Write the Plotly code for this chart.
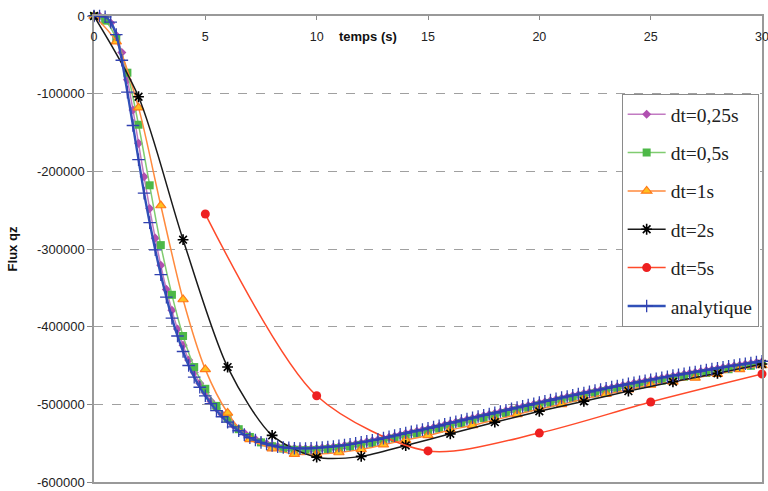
import plotly.graph_objects as go

# ---------------- data ----------------
t_025 = [i * 0.25 for i in range(121)]
t_05 = [i * 0.5 for i in range(61)]
t_1 = list(range(0, 31))
t_2 = list(range(0, 31, 2))
t_5 = [5, 10, 15, 20, 25, 30]
t_ana = [i * 0.25 for i in range(121)]

q_025 = [0, 0, -2000, -9000, -25000, -47000, -82000, -121000, -164000, -207000,
         -248000, -286000, -321000, -352000, -379000, -403000, -424000, -443000, -459000, -473000,
         -485000, -496000, -505000, -513000, -520000, -527000, -532000, -537000, -541500, -545000,
         -548000, -550500, -552500, -554200, -555400, -556300, -557000, -557300, -557400, -557200,
         -556800, -556300, -555700, -555000, -554200, -553200, -552200, -551000, -549700, -548400,
         -547100, -545700, -544200, -542600, -541000, -539400, -537700, -536200, -534700, -533200,
         -531700, -530000, -528300, -526500, -524700, -523200, -521500, -519700, -518000, -516400,
         -514800, -513200, -511700, -510000, -508300, -506500, -504900, -503300, -501700, -500100,
         -498500, -496900, -495300, -493700, -492100, -490600, -489100, -487600, -486100, -484600,
         -483100, -481600, -480100, -478600, -477200, -475800, -474400, -473000, -471700, -470400,
         -469000, -467700, -466400, -465100, -463800, -462600, -461400, -460200, -459000, -457800,
         -456600, -455400, -454200, -453000, -451800, -450700, -449600, -448500, -447400, -446300,
         -445200]

q_05 = [0, -6000, -29000, -73000, -140000, -218000, -295000, -359000, -412000, -452000,
        -480000, -502000, -518000, -532000, -542000, -549000, -554000, -557000, -558500, -559000,
        -558700, -557800, -556300, -554400, -552200, -549700, -547000, -544000, -540800, -537800,
        -534800, -531400, -527800, -524400, -521000, -517800, -514600, -511200, -507800, -504600,
        -501400, -498200, -495000, -492000, -489000, -486000, -483000, -480200, -477400, -474700,
        -472000, -469400, -466800, -464400, -462000, -459600, -457200, -454800, -452600, -450400,
        -448200]

q_1 = [0, -33000, -118000, -244000, -365000, -455000, -511000, -545000, -557000, -564000,
       -564000, -562000, -558000, -552000, -546000, -540000, -533000, -527000, -520000, -513000,
       -506000, -500000, -493000, -487000, -481000, -475000, -471000, -466000, -461000, -455000,
       -450000]

q_2 = [0, -104000, -288000, -452000, -540000, -568000, -567000, -553000, -538000, -523000,
       -509000, -496000, -483000, -471000, -460000, -448000]

q_5 = [-255000, -489000, -560000, -537000, -497000, -461000]

q_ana = [0, 0, -1000, -8000, -24000, -57000, -98000, -141000, -185000, -228000,
         -266000, -301000, -333000, -362000, -389000, -412000, -432000, -450000, -465000, -478000,
         -489000, -499000, -508000, -516000, -523000, -529000, -534000, -539000, -543000, -546000,
         -549000, -551000, -553000, -554500, -555500, -556000, -556500, -556800, -556800, -556500,
         -556000, -555500, -555000, -554300, -553500, -552500, -551500, -550300, -549000, -547700,
         -546400, -545000, -543500, -541900, -540300, -538700, -537000, -535500, -534000, -532500,
         -531000, -529300, -527600, -525800, -524000, -522500, -520800, -519000, -517300, -515700,
         -514100, -512500, -511000, -509300, -507600, -505800, -504200, -502600, -501000, -499400,
         -497800, -496200, -494600, -493000, -491400, -489900, -488400, -486900, -485400, -483900,
         -482400, -480900, -479400, -477900, -476500, -475100, -473700, -472300, -471000, -469700,
         -468300, -467000, -465700, -464400, -463100, -461900, -460700, -459500, -458300, -457100,
         -455900, -454700, -453500, -452300, -451100, -450000, -448900, -447800, -446700, -445600,
         -444500]

series_names = ["dt=0,25s", "dt=0,5s", "dt=1s", "dt=2s", "dt=5s", "analytique"]

x_ticks = [0, 5, 10, 15, 20, 25, 30]
y_ticks = [0, -100000, -200000, -300000, -400000, -500000, -600000]
y_ticktext = ["0", "-100000", "-200000", "-300000", "-400000", "-500000", "-600000"]

# ---------------- figure ----------------
fig = go.Figure()

styles = [
    dict(x=t_025, y=q_025, line=dict(color="#C27BC2", width=1.5),
         marker=dict(symbol="diamond", size=7, color="#B050B0")),
    dict(x=t_05, y=q_05, line=dict(color="#80CC70", width=1.5),
         marker=dict(symbol="square", size=8, color="#4DB848")),
    dict(x=t_1, y=q_1, line=dict(color="#FF8A3D", width=1.5),
         marker=dict(symbol="triangle-up", size=9, color="#FFC020",
                     line=dict(color="#FF7A1A", width=1.2))),
    dict(x=t_2, y=q_2, line=dict(color="#1A1A1A", width=1.5),
         marker=dict(symbol="asterisk-open", size=9, color="#000000",
                     line=dict(color="#000000", width=1.6))),
    dict(x=t_5, y=q_5, line=dict(color="#FF4A2A", width=1.5),
         marker=dict(symbol="circle", size=9, color="#EE2020")),
    dict(x=t_ana, y=q_ana, line=dict(color="#3050B8", width=2.4),
         marker=dict(symbol="cross-thin-open", size=9, color="#3040B0",
                     line=dict(color="#3040B0", width=1.3))),
]

for i, (name, st) in enumerate(zip(series_names, styles)):
    fig.add_trace(go.Scatter(
        x=st["x"], y=st["y"], name=name, mode="lines+markers",
        line=dict(shape="spline", smoothing=0.8, **st["line"]),
        marker=st["marker"], cliponaxis=False, legendgroup=f"g{i}",
    ))

axis_font = dict(family="Liberation Sans, Arial, sans-serif", size=13, color="#222222")
xtick_font = dict(family="Liberation Sans, Arial, sans-serif", size=12.5, color="#222222")

fig.update_layout(
    width=768, height=491,
    margin=dict(l=94, r=6, t=16, b=9),
    paper_bgcolor="white", plot_bgcolor="white",
    showlegend=True,
    legend=dict(
        x=0.995, xanchor="right", y=0.8326, yanchor="top",
        bgcolor="white", bordercolor="#8A8A8A", borderwidth=1,
        font=dict(family="Liberation Serif, Times New Roman, serif", size=19.5, color="#222222"),
        tracegroupgap=10, itemwidth=38,
    ),
    xaxis=dict(
        range=[0, 30], side="top", tickvals=x_ticks, ticktext=[str(v) for v in x_ticks],
        ticklabelposition="inside", ticklabeloverflow="allow", ticklabelstandoff=12,
        ticks="inside", ticklen=4, tickcolor="#888888",
        showline=True, linecolor="#999999", linewidth=1.5, mirror=True,
        showgrid=False, zeroline=False, tickfont=xtick_font, automargin=False,
    ),
    yaxis=dict(
        range=[-600000, 0], tickvals=y_ticks, ticktext=y_ticktext,
        ticks="outside", ticklen=5, tickcolor="#888888",
        showline=True, linecolor="#999999", linewidth=1.5, mirror=True,
        showgrid=True, gridcolor="#A0A0A0", griddash="dash", gridwidth=1,
        zeroline=False, tickfont=axis_font, automargin=False,
        title=dict(text="<b>Flux qz</b>", standoff=16,
                   font=dict(family="Liberation Sans, Arial, sans-serif", size=13, color="#111111")),
    ),
    annotations=[dict(
        text="<b>temps (s)</b>", x=10.9, y=1, xref="x", yref="paper",
        xanchor="left", yanchor="top", yshift=-11, showarrow=False,
        font=dict(family="Liberation Sans, Arial, sans-serif", size=13, color="#111111"),
    )],
)

fig.write_html("out.html", config={"displayModeBar": False},
               post_script="document.body.style.margin='0';document.body.style.overflow='hidden';")
